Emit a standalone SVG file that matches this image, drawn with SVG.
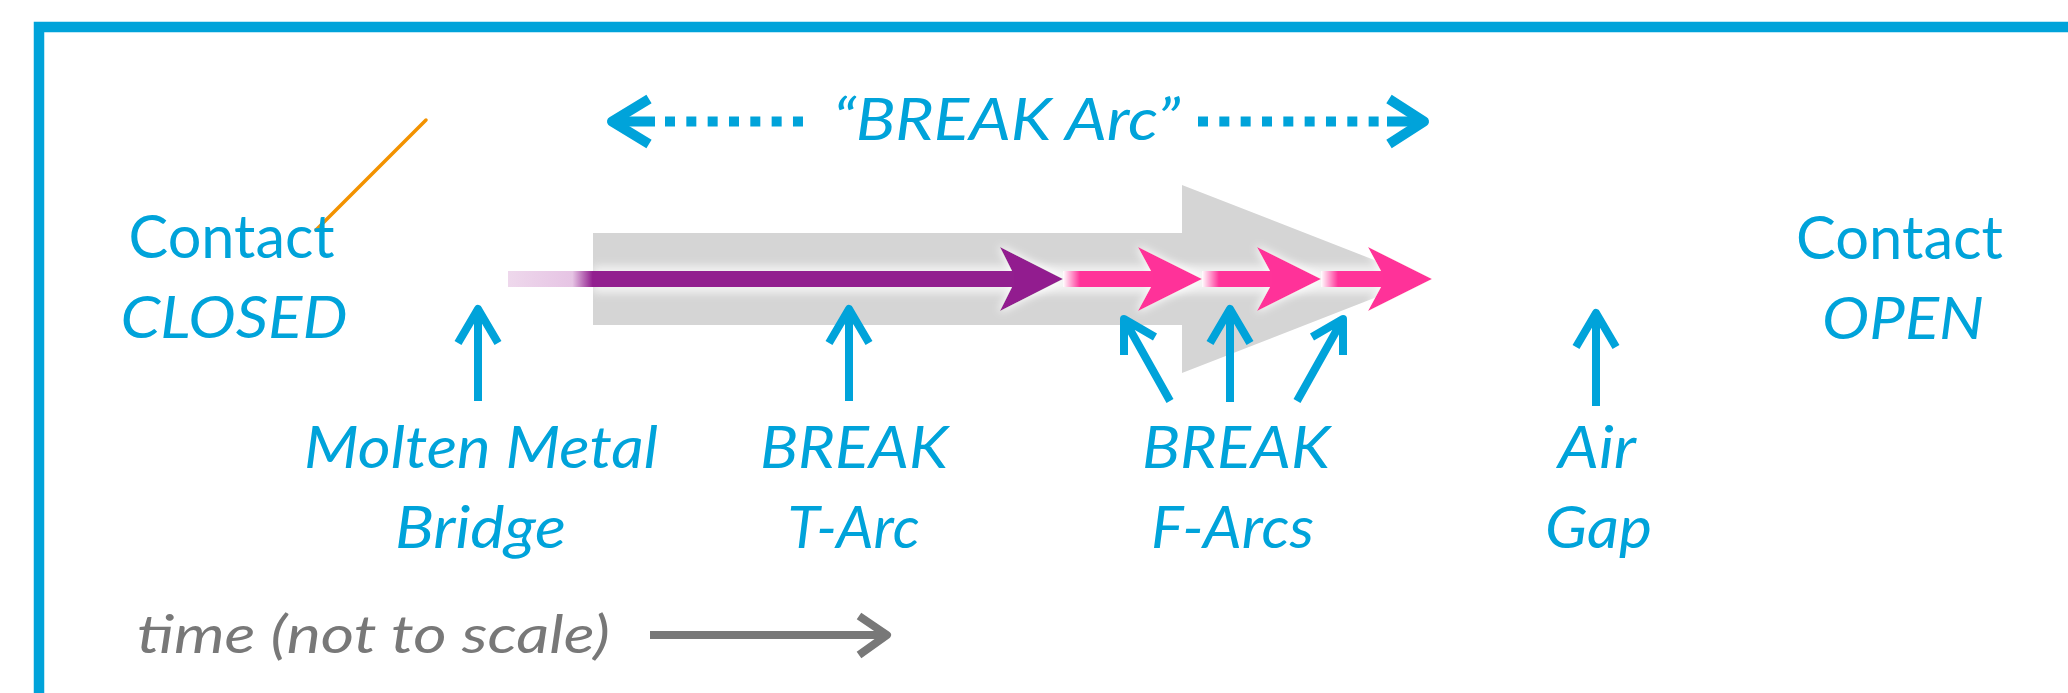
<svg xmlns="http://www.w3.org/2000/svg" width="2068" height="693" viewBox="0 0 2068 693">
<defs>
<style>
.lbl{font-family:Lato,"Open Sans","Liberation Sans",sans-serif;fill:#00A3DA;font-size:58px}
.up{font-style:normal;font-size:60px}
.it{font-style:italic}
.gray{fill:#787878;font-size:53px}
.ptr{fill:none;stroke:#00A3DA;stroke-width:8;stroke-linejoin:round}
.range{fill:none;stroke:#00A3DA;stroke-width:10}
.head{fill:none;stroke:#00A3DA;stroke-width:10;stroke-linejoin:round}
</style>
<linearGradient id="gPurple" gradientUnits="userSpaceOnUse" x1="508" y1="0" x2="600" y2="0">
<stop offset="0" stop-color="#EED8EC"/>
<stop offset="0.7" stop-color="#E6C4E4"/>
<stop offset="0.92" stop-color="#921F8F"/>
<stop offset="1" stop-color="#921F8F"/>
</linearGradient>
<linearGradient id="gP1" gradientUnits="userSpaceOnUse" x1="1063" y1="0" x2="1080" y2="0">
<stop offset="0" stop-color="#FFFFFF"/><stop offset="1" stop-color="#FF3399"/>
</linearGradient>
<linearGradient id="gP2" gradientUnits="userSpaceOnUse" x1="1202" y1="0" x2="1219" y2="0">
<stop offset="0" stop-color="#FFFFFF"/><stop offset="1" stop-color="#FF3399"/>
</linearGradient>
<linearGradient id="gP3" gradientUnits="userSpaceOnUse" x1="1321" y1="0" x2="1338" y2="0">
<stop offset="0" stop-color="#FFFFFF"/><stop offset="1" stop-color="#FF3399"/>
</linearGradient>
<filter id="soft" x="-10%" y="-100%" width="120%" height="300%">
<feGaussianBlur stdDeviation="4"/>
</filter>
<filter id="glow" x="-40%" y="-40%" width="180%" height="180%">
<feMorphology in="SourceAlpha" operator="dilate" radius="1" result="d"/>
<feGaussianBlur in="d" stdDeviation="4" result="b"/>
<feFlood flood-color="#FFFFFF" flood-opacity="0.9"/>
<feComposite in2="b" operator="in" result="g"/>
<feMerge><feMergeNode in="g"/><feMergeNode in="SourceGraphic"/></feMerge>
</filter>
</defs>

<g id="frame">
<path d="M39 700 V27 H2080" fill="none" stroke="#00A3DA" stroke-width="10.5"/>
</g>

<g id="annotation-stroke">
<line x1="426" y1="120" x2="316" y2="230" stroke="#F39200" stroke-width="3.5" stroke-linecap="round"/>
</g>

<g id="break-arc-range">
<path class="head" d="M649 99 L612 121.5 L649 144"/>
<path class="range" d="M612 121.5 H655"/>
<path class="range" d="M665 121.5 H804" stroke-dasharray="10 11.33"/>
<path class="range" d="M1198 121.5 H1380" stroke-dasharray="10 11.33"/>
<path class="range" d="M1387 121.5 H1424"/>
<path class="head" d="M1389 99 L1424 121.5 L1389 144"/>
<text class="lbl it" x="833" y="140" textLength="347" lengthAdjust="spacingAndGlyphs" font-size="56">“BREAK Arc”</text>
</g>

<g id="timeline-arrow">
<polygon points="593,233 1182,233 1182,185 1423,279 1182,373 1182,325 593,325" fill="#D5D5D5"/>
<rect x="593" y="266" width="830" height="27" fill="#FFFFFF" opacity="0.7" filter="url(#soft)"/>
<polygon points="1000,247 1063,279 1000,311 1012,287 1012,271" fill="#921F8F" filter="url(#glow)"/>
<polygon points="1138,247 1202,279 1138,311 1151,287 1151,271" fill="#FF3399" filter="url(#glow)"/>
<polygon points="1257,247 1321,279 1257,311 1270,287 1270,271" fill="#FF3399" filter="url(#glow)"/>
<polygon points="1368,247 1432,279 1368,311 1381,287 1381,271" fill="#FF3399" filter="url(#glow)"/>
<rect x="508" y="271" width="506" height="16" fill="url(#gPurple)"/>
<rect x="1063" y="271" width="90" height="16" fill="url(#gP1)"/>
<rect x="1202" y="271" width="70" height="16" fill="url(#gP2)"/>
<rect x="1321" y="271" width="62" height="16" fill="url(#gP3)"/>
</g>

<g id="connectors">
<path class="ptr" d="M478 401 V309 M458 343 L478 309 L498 343"/>
<path class="ptr" d="M849 401 V309 M829 343 L849 309 L869 343"/>
<path class="ptr" d="M1170 401 L1124 319 M1124 355 L1124 319 L1155 337"/>
<path class="ptr" d="M1230 402 V309 M1210 343 L1230 309 L1250 343"/>
<path class="ptr" d="M1297 401 L1343 319 M1343 355 L1343 319 L1312 337"/>
<path class="ptr" d="M1596 406 V313 M1576 347 L1596 313 L1616 347"/>
</g>

<g id="contact-closed">
<text class="lbl up" x="128.6" y="258" textLength="206" lengthAdjust="spacingAndGlyphs">Contact</text>
<text class="lbl it" x="120.5" y="338" textLength="227" lengthAdjust="spacingAndGlyphs">CLOSED</text>
</g>

<g id="molten-metal-bridge">
<text class="lbl it" x="304" y="468" textLength="354" lengthAdjust="spacingAndGlyphs">Molten Metal</text>
<text class="lbl it" x="395" y="548" textLength="171" lengthAdjust="spacingAndGlyphs">Bridge</text>
</g>

<g id="break-t-arc">
<text class="lbl it" x="760" y="468" textLength="188" lengthAdjust="spacingAndGlyphs">BREAK</text>
<text class="lbl it" x="787.5" y="548" textLength="132" lengthAdjust="spacingAndGlyphs">T-Arc</text>
</g>

<g id="break-f-arcs">
<text class="lbl it" x="1142" y="468" textLength="188" lengthAdjust="spacingAndGlyphs">BREAK</text>
<text class="lbl it" x="1151" y="548" textLength="163" lengthAdjust="spacingAndGlyphs">F-Arcs</text>
</g>

<g id="air-gap">
<text class="lbl it" x="1558" y="468" textLength="78" lengthAdjust="spacingAndGlyphs">Air</text>
<text class="lbl it" x="1545" y="548" textLength="107" lengthAdjust="spacingAndGlyphs">Gap</text>
</g>

<g id="contact-open">
<text class="lbl up" x="1796" y="258.5" textLength="207" lengthAdjust="spacingAndGlyphs">Contact</text>
<text class="lbl it" x="1822" y="339" textLength="162" lengthAdjust="spacingAndGlyphs">OPEN</text>
</g>

<g id="time-axis">
<text class="lbl it gray" x="137" y="653" textLength="473" lengthAdjust="spacingAndGlyphs">time (not to scale)</text>
<path d="M650 635 H886" fill="none" stroke="#787878" stroke-width="8"/>
<path d="M859 616 L887 635 L859 655" fill="none" stroke="#787878" stroke-width="8" stroke-linejoin="round"/>
</g>
</svg>
